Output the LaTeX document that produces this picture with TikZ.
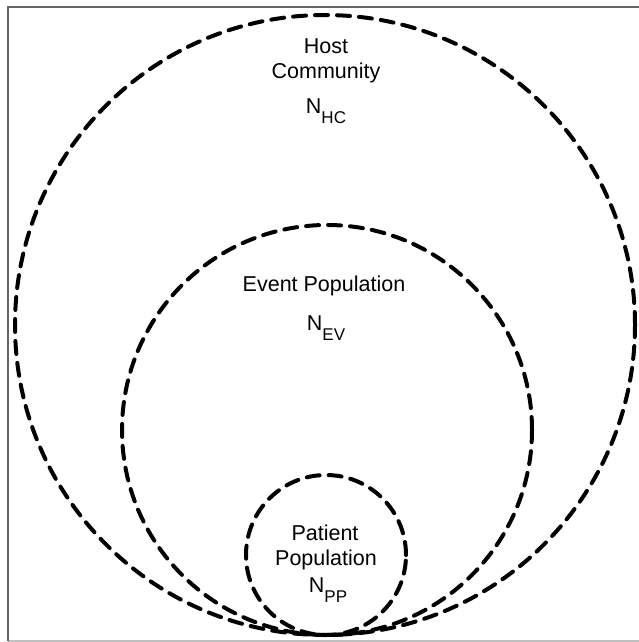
\documentclass[tikz,border=0pt]{standalone}
\usepackage{fontspec}
\setmainfont{Liberation Sans}
\newcommand{\mysubs}[1]{\raisebox{-10pt}{\fontsize{17}{17}\selectfont #1}}
\tikzset{
  setcircle/.style={circle, draw=black, line width=4pt, dash pattern=on 13pt off 9pt, line cap=round, inner sep=0pt, outer sep=0pt},
  lbl/.style={anchor=base, inner sep=0pt, font=\fontsize{21.5}{25}\selectfont, text=black},
  framedark/.style={draw=black!60, line width=2pt},
  framelight/.style={draw=black!25, line width=2pt}
}
\begin{document}
\begin{tikzpicture}[x=1pt, y=-1pt]
\useasboundingbox (0,0) rectangle (639,642);
% frame
\coordinate (ftl) at (8,7.5);
\coordinate (ftr) at (640,7.5);
\coordinate (fbl) at (8,641);
\coordinate (fbr) at (640,641);
\draw[framelight] (fbl) -- (fbr);
\draw[framedark] (ftr) -- (ftl) -- (fbl);
% circles
\node[setcircle, minimum size=620pt] (hc) at (325,325) {};
\node[setcircle, minimum size=410pt] (ev) at (327,430) {};
\node[setcircle, minimum size=160pt] (pp) at (326,555) {};
% labels
\node[lbl] (hc1) at (326,53) {Host};
\node[lbl] (hc2) at (326,78) {Community};
\node[lbl] (hc3) at (326,113) {N\mysubs{HC}};
\node[lbl] (ev1) at (324,291) {Event Population};
\node[lbl] (ev2) at (326,330) {N\mysubs{EV}};
\node[lbl] (pp1) at (325,540) {Patient};
\node[lbl] (pp2) at (326,565) {Population};
\node[lbl] (pp3) at (328,592) {N\mysubs{PP}};
\end{tikzpicture}
\end{document}
